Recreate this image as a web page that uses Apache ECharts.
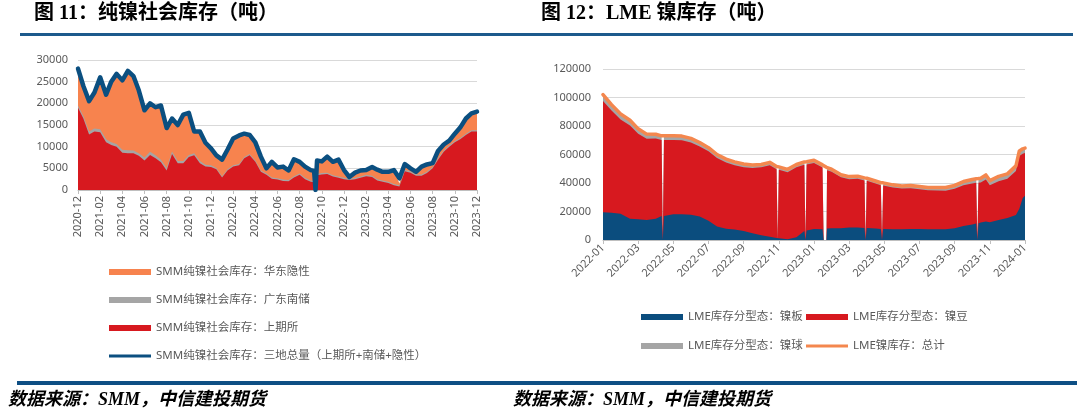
<!DOCTYPE html>
<html><head><meta charset="utf-8">
<script src="https://cdn.jsdelivr.net/npm/echarts@6/dist/echarts.min.js"></script>
<style>html,body{margin:0;padding:0;background:#fff}#c{width:1080px;height:418px}</style>
</head><body><div id="c"></div>
<script>
// ---------- Chart 11: 纯镍社会库存 ----------
const dates1 = ['2020-12-01','2020-12-16','2021-01-01','2021-01-16','2021-02-01','2021-02-16','2021-03-01','2021-03-16','2021-04-01','2021-04-16','2021-05-01','2021-05-16','2021-06-01','2021-06-16','2021-07-01','2021-07-16','2021-08-01','2021-08-16','2021-09-01','2021-09-16','2021-10-01','2021-10-16','2021-11-01','2021-11-16','2021-12-01','2021-12-16','2022-01-01','2022-01-16','2022-02-01','2022-02-16','2022-03-01','2022-03-16','2022-04-01','2022-04-16','2022-05-01','2022-05-16','2022-06-01','2022-06-16','2022-07-01','2022-07-16','2022-08-01','2022-08-16','2022-09-01','2022-09-10','2022-09-14','2022-09-18','2022-10-01','2022-10-16','2022-11-01','2022-11-16','2022-12-01','2022-12-16','2023-01-01','2023-01-16','2023-02-01','2023-02-16','2023-03-01','2023-03-16','2023-04-01','2023-04-16','2023-05-01','2023-05-16','2023-06-01','2023-06-16','2023-07-01','2023-07-16','2023-08-01','2023-08-16','2023-09-01','2023-09-16','2023-10-01','2023-10-16','2023-11-01','2023-11-16','2023-12-01'];
const shfe1 = [19000,16500,12800,13500,13300,11000,10400,10000,8600,8500,8500,7900,6800,8100,7300,6400,4500,8300,6200,6200,7600,8000,6200,5400,5300,4800,2900,4500,5400,5700,7300,8000,6500,4200,3500,2600,2400,2100,2000,2900,3500,2500,1900,1800,600,3400,3600,3700,3100,2800,2500,2300,2500,2800,3200,3000,2200,1900,1600,1100,800,4300,4000,3300,3300,3900,5000,7000,8800,10000,11000,11700,12700,13500,13500];
const nanchu1 = [500,600,700,700,700,700,600,600,700,700,600,600,700,700,700,600,600,600,500,500,500,500,500,400,400,300,300,300,300,300,300,300,300,300,300,300,300,300,300,300,300,300,300,300,300,300,300,300,300,300,300,300,300,300,300,300,300,300,300,300,300,300,300,300,300,300,300,300,300,300,300,300,300,300,300];
const yinxing1 = [8400,6900,7100,8400,12100,10400,14000,16200,16100,18400,17200,14500,11000,11300,11200,12500,9200,7600,8200,10600,9600,4900,6700,4900,3700,2900,3800,4500,6200,6600,5400,4400,4200,3200,1200,3600,2500,3000,2200,3900,2700,2600,2400,2300,2500,3100,2700,3700,3100,3900,1800,400,1200,1400,1100,2000,2200,2000,2300,3200,400,1400,700,600,1800,1700,900,1700,1400,1100,1700,2400,3500,3900,4300];
const total1 = [28000,24000,20500,22500,26000,22000,25000,26800,25300,27500,26300,23000,18400,20000,19100,19500,14300,16500,15000,17400,17800,13500,13500,10900,9600,8000,7000,9300,11900,12600,13000,12700,11000,7700,5000,6500,5200,5400,4500,7100,6500,5400,4600,4400,0,6800,6600,7700,6500,7000,4600,3000,4000,4500,4600,5300,4700,4200,4200,4600,2700,6000,5000,4200,5400,5900,6200,9000,10500,11400,13000,14400,16500,17700,18100];
const ticks1 = ['2020-12','2021-02','2021-04','2021-06','2021-08','2021-10','2021-12','2022-02','2022-04','2022-06','2022-08','2022-10','2022-12','2023-02','2023-04','2023-06','2023-08','2023-10','2023-12'];

// ---------- Chart 12: LME 镍库存 ----------
const dates2 = ['2022-01-01','2022-01-16','2022-02-01','2022-02-16','2022-03-01','2022-03-16','2022-04-01','2022-04-11','2022-04-13','2022-04-15','2022-04-16','2022-05-01','2022-05-16','2022-06-01','2022-06-16','2022-07-01','2022-07-16','2022-08-01','2022-08-16','2022-09-01','2022-09-16','2022-10-01','2022-10-16','2022-10-28','2022-10-30','2022-11-01','2022-11-16','2022-12-01','2022-12-15','2022-12-17','2022-12-19','2023-01-01','2023-01-16','2023-01-17','2023-01-18','2023-01-23','2023-01-24','2023-02-01','2023-02-16','2023-03-01','2023-03-16','2023-03-28','2023-03-30','2023-04-01','2023-04-16','2023-04-25','2023-04-27','2023-04-29','2023-05-01','2023-05-16','2023-06-01','2023-06-16','2023-07-01','2023-07-16','2023-08-01','2023-08-16','2023-09-01','2023-09-16','2023-10-01','2023-10-08','2023-10-10','2023-10-12','2023-10-16','2023-10-25','2023-11-01','2023-11-16','2023-12-01','2023-12-16','2023-12-22','2023-12-28','2024-01-01'];
const ban2 = [19500,19200,18500,14900,14500,14100,15000,16800,0,16900,17100,18000,18000,17700,16500,13500,9500,7900,7400,6400,4800,3300,2300,1400,0,1300,600,2000,6400,0,6600,7700,7500,7500,0,0,8000,8200,8200,8700,8700,8500,0,8400,8000,7700,0,7700,7600,7500,7500,7700,7700,7600,7500,7500,8300,9800,10800,11500,0,11700,12300,12900,12500,14100,15500,17600,22000,29500,31000];
const dou2 = [78000,71600,66000,65400,60000,57000,56200,53300,0,53200,53000,52100,52000,50800,49200,48700,48000,46500,45100,44700,45800,47700,50200,48200,0,48000,47000,49000,46400,0,46300,46300,43300,43000,0,0,41000,39700,35800,34000,34300,33300,0,33200,31600,30700,0,30600,30300,29400,28600,28700,28000,27400,27300,27100,27600,28600,28900,28600,0,28400,28100,29600,25900,27100,27400,30900,37000,31000,30000];
const qiu2 = [4500,4200,4000,3700,3500,3200,3000,3000,0,3000,3000,3000,2900,2800,2700,2600,2500,2400,2300,2200,2100,2000,2000,2000,0,2000,2000,2000,2000,0,2000,2000,1900,1900,0,0,1800,1800,1800,1800,1800,1800,0,1800,1800,1800,0,1800,1800,1800,1800,1800,1800,1900,2000,2200,2400,2600,2800,2900,0,3000,3000,3200,3300,3400,3500,3500,3500,3500,3500];
const total2 = [102000,95000,88500,84000,78000,74300,74200,73100,73100,73100,73100,73100,72900,71300,68400,64800,60000,56800,54800,53300,52700,53000,54500,51600,51400,51300,49600,53000,54800,54900,54900,56000,52700,52400,52200,51000,50800,49700,45800,44500,44800,43600,43500,43400,41400,40200,40100,40100,39700,38700,37900,38200,37500,36900,36800,36800,38300,41000,42500,43000,43100,43100,43400,45700,41700,44600,46400,52000,62500,64000,64500];
const ticks2 = ['2022-01','2022-03','2022-05','2022-07','2022-09','2022-11','2023-01','2023-03','2023-05','2023-07','2023-09','2023-11','2024-01'];

// ---------- helpers ----------
function monthOffset(s, y0, m0) {
  const p = s.split('-').map(Number);
  const dim = new Date(p[0], p[1], 0).getDate();
  return (p[0] - y0) * 12 + (p[1] - m0) + (p[2] - 1) / dim;
}
const x1 = dates1.map(d => monthOffset(d, 2020, 12));
const x2 = dates2.map(d => monthOffset(d, 2022, 1));
const pair = (xs, ys) => xs.map((x, i) => [x, ys[i]]);
// cumulative tops for stacked areas (stack layers drawn top-first)
const cum = (...arrs) => arrs[0].map((_, i) => arrs.reduce((s, a) => s + a[i], 0));

const FONT = '"Noto Sans", "Noto Sans CJK SC", sans-serif';
const TXT = '#595959';
const GRIDC = '#d9d9d9';

function area(name, gi, xs, ys, color) {
  return {
    name, type: 'line', xAxisIndex: gi, yAxisIndex: gi,
    data: pair(xs, ys), symbol: 'none', showSymbol: false,
    lineStyle: { width: 0, color }, itemStyle: { color },
    areaStyle: { color, opacity: 1, origin: 'start' }, emphasis: { disabled: true }, z: 2
  };
}
function line(name, gi, xs, ys, color, width) {
  return {
    name, type: 'line', xAxisIndex: gi, yAxisIndex: gi,
    data: pair(xs, ys), symbol: 'none', showSymbol: false,
    lineStyle: { width, color, cap: 'round', join: 'round' }, itemStyle: { color },
    emphasis: { disabled: true }, z: 5
  };
}
function leg(name, left, cy, icon) {
  return {
    data: [{ name, icon }], left, top: cy - 7, padding: 0,
    itemWidth: 42, itemHeight: 6, selectedMode: false,
    itemStyle: { borderWidth: 0 },
    textStyle: { color: TXT, fontSize: 11.5, fontFamily: FONT, lineHeight: 14 }
  };
}
const LINEICON = 'path://M0 0H44V3H0Z';

const N1 = ['SMM纯镍社会库存：华东隐性', 'SMM纯镍社会库存：广东南储', 'SMM纯镍社会库存：上期所', 'SMM纯镍社会库存：三地总量（上期所+南储+隐性）'];
const N2 = ['LME库存分型态：镍板', 'LME库存分型态：镍豆', 'LME库存分型态：镍球', 'LME镍库存：总计'];

function yAxis(gi, max, interval, margin) {
  return {
    type: 'value', gridIndex: gi, min: 0, max, interval,
    axisLabel: { color: TXT, fontSize: 11, fontFamily: FONT, margin, formatter: v => String(v) },
    axisLine: { show: false }, axisTick: { show: false },
    splitLine: { lineStyle: { color: GRIDC, width: 1 } }
  };
}
function xAxis(gi, max, ticks, rotate) {
  return {
    type: 'value', gridIndex: gi, min: 0, max, interval: 2,
    axisLabel: { color: TXT, fontSize: 11, fontFamily: FONT, rotate, margin: 6,
      formatter: v => ticks[Math.round(v / 2)] || '' },
    axisLine: { lineStyle: { color: '#bfbfbf' } },
    axisTick: { show: true, length: 4, lineStyle: { color: '#bfbfbf' } },
    splitLine: { show: false }
  };
}

const top1c = cum(shfe1, nanchu1, yinxing1);
const mid1c = cum(shfe1, nanchu1);
const top2c = cum(ban2, dou2, qiu2);
const mid2c = cum(ban2, dou2);

const TITLEFONT = 'bold 20px "Liberation Serif", "Noto Sans CJK SC"';
const FOOTFONT = 'italic bold 18px "Liberation Serif", "Noto Sans CJK SC"';

const chart = echarts.init(document.getElementById('c'), null, { renderer: 'canvas' });
chart.setOption({
  animation: false,
  backgroundColor: '#fff',
  grid: [
    { left: 78, top: 60, width: 399, height: 130 },
    { left: 603, top: 69, width: 422, height: 171 }
  ],
  xAxis: [xAxis(0, 36, ticks1, 90), xAxis(1, 24, ticks2, 45)],
  yAxis: [yAxis(0, 30000, 5000, 10), yAxis(1, 120000, 20000, 12)],
  legend: [
    leg(N1[0], 109, 272, 'rect'),
    leg(N1[1], 109, 300, 'rect'),
    leg(N1[2], 109, 328, 'rect'),
    leg(N1[3], 109, 356, LINEICON),
    leg(N2[0], 641, 317, 'rect'),
    leg(N2[1], 806, 317, 'rect'),
    leg(N2[2], 641, 346, 'rect'),
    leg(N2[3], 806, 346, LINEICON)
  ],
  series: [
    area(N1[0], 0, x1, top1c, '#f7834e'),
    area(N1[1], 0, x1, mid1c, '#a5a5a5'),
    area(N1[2], 0, x1, shfe1, '#d7191f'),
    line(N1[3], 0, x1, total1, '#0b4f80', 4.5),
    area(N2[2], 1, x2, top2c, '#a5a5a5'),
    area(N2[1], 1, x2, mid2c, '#d7191f'),
    area(N2[0], 1, x2, ban2, '#0b4d7e'),
    line(N2[3], 1, x2, total2, '#f4874e', 3.5)
  ],
  graphic: [
    { type: 'text', left: 34, top: 4, style: { text: '图 11：纯镍社会库存（吨）', font: TITLEFONT, fill: '#000' } },
    { type: 'text', left: 541, top: 4, style: { text: '图 12：LME 镍库存（吨）', font: TITLEFONT, fill: '#000' } },
    { type: 'rect', shape: { x: 20, y: 33, width: 485, height: 3 }, style: { fill: '#1d5a8c' } },
    { type: 'rect', shape: { x: 503, y: 33, width: 570, height: 3 }, style: { fill: '#1d5a8c' } },
    { type: 'rect', shape: { x: 17, y: 381, width: 1060, height: 4 }, style: { fill: '#0e4f84' } },
    { type: 'text', left: 8, top: 391, style: { text: '数据来源：SMM，中信建投期货', font: FOOTFONT, fill: '#000' } },
    { type: 'text', left: 513, top: 391, style: { text: '数据来源：SMM，中信建投期货', font: FOOTFONT, fill: '#000' } }
  ]
});
</script>
</body></html>
